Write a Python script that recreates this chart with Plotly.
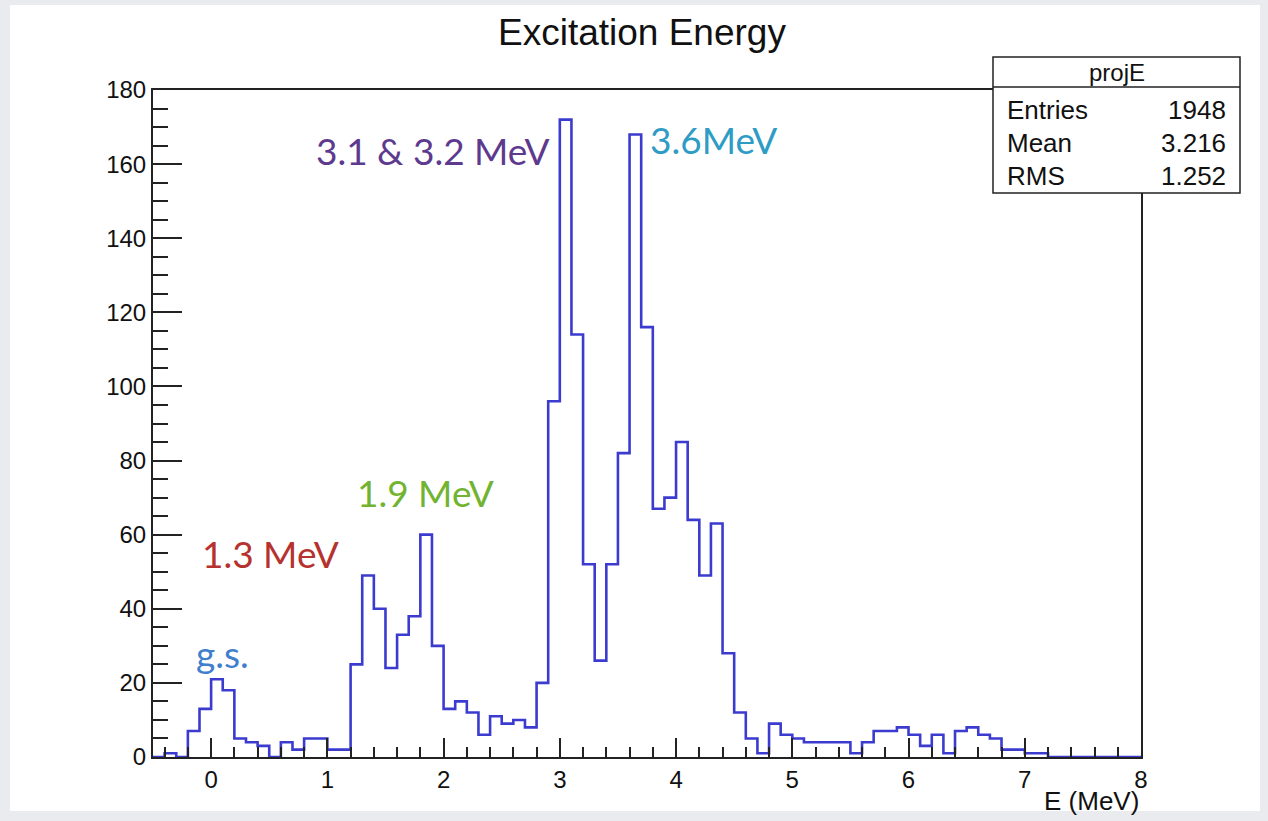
import plotly.graph_objects as go

# ---------------- data ----------------
BIN_LOW = -0.5
BIN_WIDTH = 0.1
counts = [0, 1, 0, 7, 13, 21, 18, 5, 4, 3,
          0, 4, 2, 5, 5, 2, 2, 25, 49, 40,
          24, 33, 38, 60, 30, 13, 15, 12, 6, 11,
          9, 10, 8, 20, 96, 172, 114, 52, 26, 52,
          82, 168, 116, 67, 70, 85, 64, 49, 63, 28,
          12, 5, 1, 9, 6, 5, 4, 4, 4, 4,
          1, 4, 7, 7, 8, 6, 3, 6, 1, 7,
          8, 6, 5, 2, 2, 1, 1, 0, 0, 0,
          0, 0, 0, 0, 0]
peak_labels = ["g.s.", "1.3 MeV", "1.9 MeV", "3.1 & 3.2 MeV", "3.6MeV"]
peak_colors = ["#3f7fce", "#b5322f", "#72b331", "#5d3a8e", "#2e9cc4"]
stat_names = ["Entries", "Mean", "RMS"]
stat_values = ["1948", "3.216", "1.252"]
hist_name = "projE"
x_ticks = [0, 1, 2, 3, 4, 5, 6, 7, 8]
y_ticks = [0, 20, 40, 60, 80, 100, 120, 140, 160, 180]

# ---------------- geometry ----------------
W, H = 1268, 821
L, R, T, B = 153, 1141, 90, 757   # frame in pixels


def px(x):
    return (x - L) / (R - L)


def py(y):
    return (B - y) / (B - T)


edges = [BIN_LOW + i * BIN_WIDTH for i in range(len(counts) + 1)]
xs = edges
ys = counts + [counts[-1]]

fig = go.Figure()
fig.add_trace(go.Scatter(
    x=xs, y=ys, mode="lines", line_shape="hv",
    line=dict(color="#3b3bd0", width=2.6),
    hoverinfo="skip", showlegend=False, cliponaxis=True,
))

ROOT_FONT = "Liberation Sans, Arial, sans-serif"
LABEL_FONT = "Lato, Open Sans, sans-serif"

shapes = [
    dict(type="rect", xref="paper", yref="paper",
         x0=px(10), x1=px(1260), y0=py(811), y1=py(5),
         fillcolor="white", line=dict(width=0), layer="below"),
    dict(type="rect", xref="paper", yref="paper",
         x0=px(993), x1=px(1240), y0=py(193), y1=py(57),
         fillcolor="white", line=dict(color="#222", width=1.5), layer="above"),
    dict(type="line", xref="paper", yref="paper",
         x0=px(993), x1=px(1240), y0=py(87), y1=py(87),
         line=dict(color="#222", width=1.5), layer="above"),
]

annotations = [
    dict(text="Excitation Energy", xref="paper", yref="paper",
         x=px(642), y=py(32), xanchor="center", yanchor="middle",
         showarrow=False, font=dict(family=ROOT_FONT, size=37, color="#111")),
    dict(text="E (MeV)", xref="paper", yref="paper",
         x=px(1141), y=py(801), xanchor="right", yanchor="middle",
         showarrow=False, font=dict(family=ROOT_FONT, size=26, color="#111")),
    dict(text=hist_name, xref="paper", yref="paper",
         x=px(1117), y=py(72), xanchor="center", yanchor="middle",
         showarrow=False, font=dict(family=ROOT_FONT, size=24, color="#111")),
]
row_y = [110, 143, 176]
for name, val, ry in zip(stat_names, stat_values, row_y):
    annotations.append(dict(text=name, xref="paper", yref="paper",
                            x=px(1005), y=py(ry), xanchor="left", yanchor="middle",
                            showarrow=False, font=dict(family=ROOT_FONT, size=26, color="#111")))
    annotations.append(dict(text=val, xref="paper", yref="paper",
                            x=px(1228), y=py(ry), xanchor="right", yanchor="middle",
                            showarrow=False, font=dict(family=ROOT_FONT, size=26, color="#111")))

label_pos = [(222, 653), (270, 553), (425, 492), (433, 150), (713, 140)]
for txt, col, (lx, ly) in zip(peak_labels, peak_colors, label_pos):
    annotations.append(dict(text=txt, xref="paper", yref="paper",
                            x=px(lx), y=py(ly), xanchor="center", yanchor="middle",
                            showarrow=False, font=dict(family=LABEL_FONT, size=37, color=col)))

fig.update_layout(
    width=W, height=H,
    margin=dict(l=L, r=W - R, t=T, b=H - B, pad=0),
    paper_bgcolor="#e9ebee", plot_bgcolor="white",
    shapes=shapes, annotations=annotations,
    showlegend=False,
    xaxis=dict(range=[-0.5, 8], tickmode="array", tickvals=x_ticks,
               ticktext=[str(v) for v in x_ticks],
               ticks="inside", ticklen=19, tickwidth=1.5, tickcolor="#222",
               minor=dict(dtick=0.2, tick0=0, ticks="inside", ticklen=10,
                          tickwidth=1.5, tickcolor="#222", showgrid=False),
               showline=True, linecolor="#222", linewidth=2, mirror=True,
               showgrid=False, zeroline=False,
               tickfont=dict(family=ROOT_FONT, size=24, color="#111")),
    yaxis=dict(range=[0, 180], tickmode="array", tickvals=y_ticks,
               ticktext=[str(v) for v in y_ticks],
               ticks="inside", ticklen=29, tickwidth=1.5, tickcolor="#222",
               minor=dict(dtick=5, tick0=0, ticks="inside", ticklen=15,
                          tickwidth=1.5, tickcolor="#222", showgrid=False),
               showline=True, linecolor="#222", linewidth=2, mirror=True,
               showgrid=False, zeroline=False,
               tickfont=dict(family=ROOT_FONT, size=24, color="#111")),
)

fig.write_html("out.html",
               config={"displayModeBar": False},
               post_script="document.body.style.margin='0';document.body.style.background='#e9ebee';")
